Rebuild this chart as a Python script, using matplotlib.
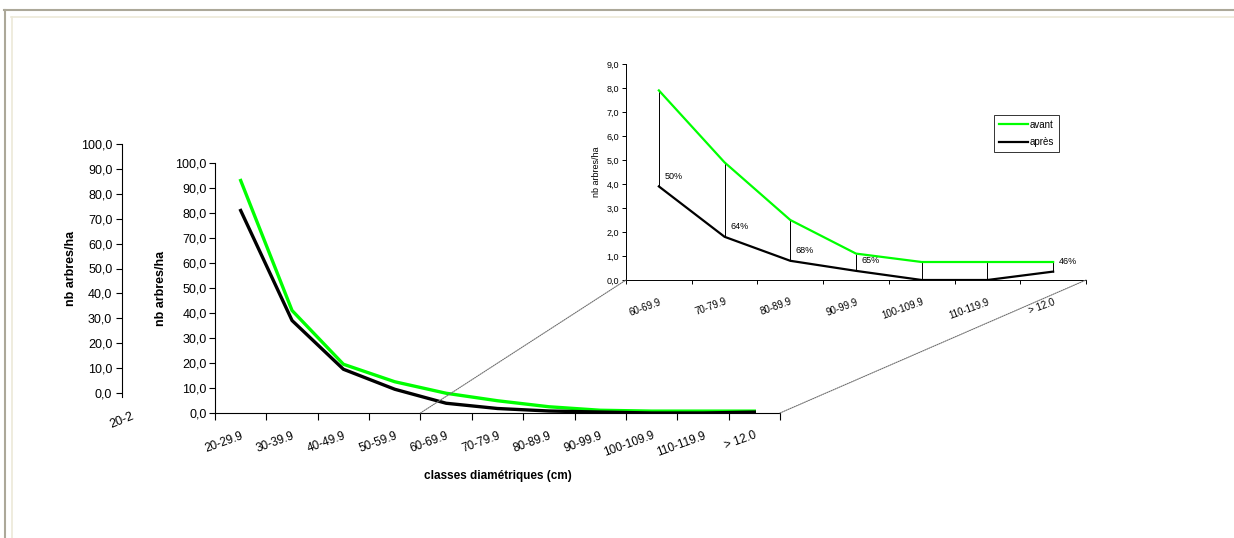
import matplotlib.pyplot as plt
from matplotlib.patches import ConnectionPatch
from matplotlib.lines import Line2D

plt.rcParams['font.family'] = ['Liberation Sans', 'DejaVu Sans']

classes = ['20-29.9', '30-39.9', '40-49.9', '50-59.9', '60-69.9', '70-79.9',
           '80-89.9', '90-99.9', '100-109.9', '110-119.9', '> 12.0']
avant = [93.0, 41.0, 19.5, 12.5, 7.9, 4.9, 2.5, 1.1, 0.75, 0.75, 0.75]
apres = [81.0, 37.0, 17.5, 9.5, 3.9, 1.8, 0.8, 0.38, 0.0, 0.0, 0.35]

zoom_start = 4
zoom_labels = classes[zoom_start:]
pct_labels = ['50%', '64%', '68%', '65%', '', '', '46%']

W, H = 1234, 538
GREEN = '#00ff00'


def box(x0, y0, x1, y1):
    # pixel box (top-left origin) -> figure fraction rect
    return [x0 / W, 1 - y1 / H, (x1 - x0) / W, (y1 - y0) / H]


def comma(v, pos=None):
    return ('%.1f' % v).replace('.', ',')


fig = plt.figure(figsize=(W / 100, H / 100), dpi=100)
fig.patch.set_facecolor('white')

# page frame of the screenshot
fig.add_artist(Line2D([4 / W, 1], [1 - 9.5 / H] * 2, color='#aca899', lw=1.5))
fig.add_artist(Line2D([4.5 / W] * 2, [0, 1 - 9.5 / H], color='#aca899', lw=1.5))
fig.add_artist(Line2D([11 / W, 1], [1 - 17 / H] * 2, color='#ece9d8', lw=1.2))
fig.add_artist(Line2D([11.5 / W] * 2, [0, 1 - 17 / H], color='#ece9d8', lw=1.2))

# ghost axis left behind (partly hidden chart)
axg = fig.add_axes(box(122, 144, 170, 393))
axg.set_ylim(0, 100)
axg.set_xlim(0, 1)
for s in ['top', 'right', 'bottom']:
    axg.spines[s].set_visible(False)
axg.spines['left'].set_linewidth(0.8)
axg.spines['left'].set_bounds(-1.5, 100)
axg.set_yticks(range(0, 101, 10))
axg.yaxis.set_major_formatter(comma)
axg.tick_params(axis='y', labelsize=9, length=4, width=0.8, pad=3)
axg.set_xticks([])
axg.set_ylabel('nb arbres/ha', fontsize=9, fontweight='bold', labelpad=3)
axg.patch.set_alpha(0)
axg.text(0.2, -0.07, '20-2', transform=axg.transAxes, rotation=22,
         fontsize=9, ha='right', va='top', rotation_mode='anchor')

# main chart
ax = fig.add_axes(box(215, 163, 780, 413))
x = list(range(len(classes)))
ax.plot(x, avant, color=GREEN, lw=2.4, zorder=3)
ax.plot(x, apres, color='black', lw=2.4, zorder=3)
ax.set_xlim(-0.5, len(classes) - 0.5)
ax.set_ylim(0, 100)
ax.set_yticks(range(0, 101, 10))
ax.yaxis.set_major_formatter(comma)
ax.tick_params(axis='y', labelsize=9, length=4, width=0.8, pad=2)
ax.set_xticks(x)
ax.set_xticklabels(classes, rotation=20, ha='right', va='top',
                   rotation_mode='anchor', fontsize=8.5)
ax.tick_params(axis='x', which='major', length=0, pad=12)
ax.set_xticks([i - 0.5 for i in range(len(classes) + 1)], minor=True)
ax.tick_params(axis='x', which='minor', length=5, width=0.8)
for s in ['top', 'right']:
    ax.spines[s].set_visible(False)
for s in ['left', 'bottom']:
    ax.spines[s].set_linewidth(0.8)
ax.set_ylabel('nb arbres/ha', fontsize=9, fontweight='bold', labelpad=6)
ax.set_xlabel('classes diamétriques (cm)', fontsize=8.5, fontweight='bold',
              labelpad=8)
ax.patch.set_alpha(0)

# zoom inset
axi = fig.add_axes(box(626, 64, 1086, 280))
xs = list(range(len(zoom_labels)))
za = avant[zoom_start:]
zb = apres[zoom_start:]
axi.vlines(xs, zb, za, color='black', lw=0.7, zorder=2)
axi.plot(xs, za, color=GREEN, lw=1.6, label='avant', zorder=3)
axi.plot(xs, zb, color='black', lw=1.6, label='après', zorder=3)
for i, t in enumerate(pct_labels):
    if t:
        axi.annotate(t, (xs[i], zb[i]), xytext=(4, 4), textcoords='offset points',
                     fontsize=6.5, ha='left', va='bottom')
axi.set_xlim(-0.5, len(zoom_labels) - 0.5)
axi.set_ylim(0, 9)
axi.set_yticks(range(0, 10))
axi.yaxis.set_major_formatter(comma)
axi.tick_params(axis='y', labelsize=6.5, length=3, width=0.7, pad=2)
axi.set_xticks(xs)
axi.set_xticklabels(zoom_labels, rotation=20, ha='right', va='top',
                    rotation_mode='anchor', fontsize=7)
axi.tick_params(axis='x', which='major', length=0, pad=12)
axi.set_xticks([i - 0.5 for i in range(len(zoom_labels) + 1)], minor=True)
axi.tick_params(axis='x', which='minor', length=3, width=0.7)
for s in ['top', 'right']:
    axi.spines[s].set_visible(False)
for s in ['left', 'bottom']:
    axi.spines[s].set_linewidth(0.7)
axi.set_ylabel('nb arbres/ha', fontsize=6.5, labelpad=4)
axi.patch.set_alpha(0)
leg = axi.legend(loc='upper left', bbox_to_anchor=(0.8, 0.765), fontsize=7,
                 frameon=True, fancybox=False, edgecolor='black',
                 handlelength=3, handletextpad=0.2, borderpad=0.5,
                 labelspacing=0.8, borderaxespad=0)
leg.get_frame().set_linewidth(0.7)

# connector lines from the zoomed range to the inset
for xm, xa in [(zoom_start - 0.5, 0), (len(classes) - 0.5, 1)]:
    con = ConnectionPatch(xyA=(xm, 0), coordsA=ax.transData,
                          xyB=(xa, 0), coordsB=axi.transAxes,
                          color='#707070', lw=0.8, ls=(0, (1, 1)))
    fig.add_artist(con)

fig.savefig('out.png', dpi=100, facecolor=fig.get_facecolor())
